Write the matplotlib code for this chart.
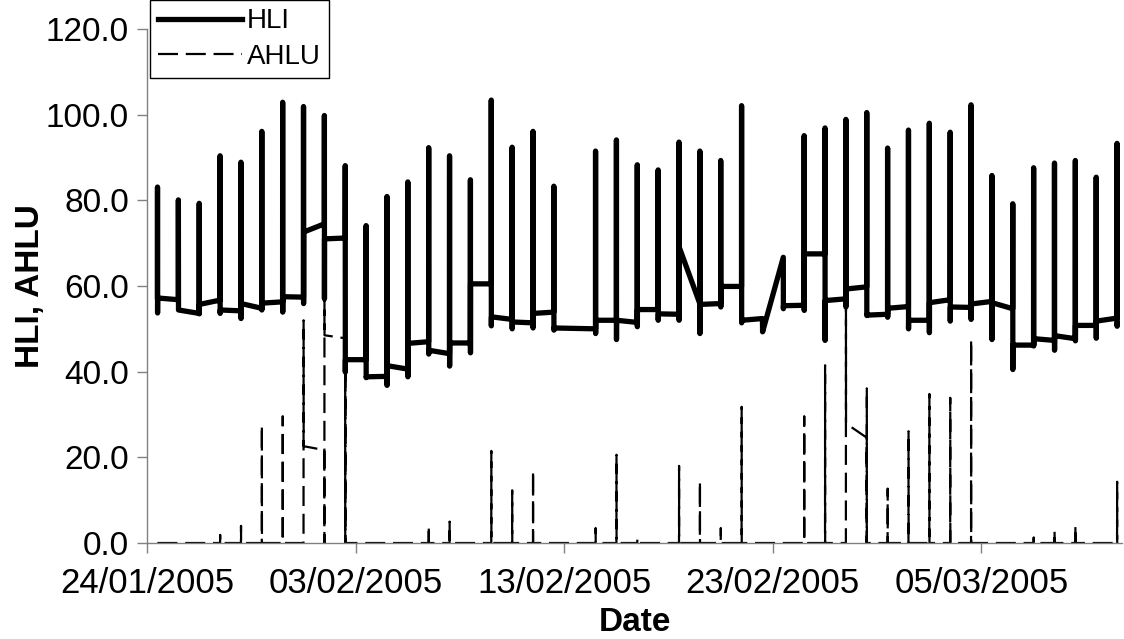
import numpy as np
import pandas as pd
import matplotlib
matplotlib.use("Agg")
import matplotlib.pyplot as plt
import matplotlib.dates as mdates
from matplotlib.ticker import MultipleLocator, FuncFormatter
from matplotlib.lines import Line2D

plt.rcParams['font.family'] = ['Liberation Sans', 'DejaVu Sans']

# one record per day, taken around midday
days = pd.date_range('2005-01-24 12:00', periods=47, freq='D')

# HLI: value on arrival, daily maximum, daily minimum, value on departure
hli_in = [57.0, 56.8, 53.6, 56.7, 54.2, 54.8, 56.3, 57.4, 74.5, 71.2,
          42.8, 38.9, 40.6, 47.0, 44.2, 46.7, 60.5, 52.2, 51.4, 53.9,
          np.nan, 50.0, 52.0, 51.5, 54.5, 53.4, 55.9, 55.9, 59.9, 52.4,
          66.7, 55.5, 67.5, 57.0, 59.8, 53.4, 55.2, 52.0, 56.8, 55.0,
          56.4, 54.7, 46.2, 47.3, 47.7, 50.8, 52.5]
hli_max = [83.1, 80.1, 79.3, 90.4, 88.9, 96.1, 102.9, 101.9, 99.8, 88.1,
           74.1, 80.9, 84.3, 92.3, 90.4, 84.8, 103.4, 92.4, 96.1, 83.3,
           np.nan, 91.5, 94.1, 88.3, 87.1, 93.6, 91.5, 89.3, 102.1, 52.4,
           66.7, 95.1, 96.9, 98.9, 100.5, 92.2, 96.4, 98.0, 95.9, 102.3,
           85.8, 79.2, 87.6, 88.7, 89.3, 85.4, 93.3]
hli_min = [53.7, 54.4, 53.5, 53.6, 52.4, 54.4, 53.9, 55.9, 57.0, 39.9,
           38.6, 36.8, 38.8, 44.1, 41.3, 44.4, 50.7, 50.0, 50.2, 49.7,
           np.nan, 48.9, 47.5, 50.5, 52.0, 52.0, 48.9, 55.1, 51.4, 49.3,
           54.7, 54.3, 47.3, 55.1, 53.1, 52.7, 50.0, 49.1, 51.8, 52.2,
           47.5, 40.5, 46.0, 45.0, 47.2, 47.8, 50.6]
hli_out = [57.2, 54.4, 55.7, 54.4, 55.9, 56.0, 57.5, 72.6, 71.0, 42.8,
           38.8, 41.4, 46.6, 45.0, 46.7, 60.5, 52.8, 51.6, 53.6, 50.2,
           np.nan, 52.0, 52.0, 54.5, 53.5, 69.1, 55.7, 59.9, 52.0, 49.3,
           55.4, 67.5, 56.6, 59.3, 53.2, 54.8, 52.0, 56.1, 55.1, 55.8,
           56.1, 46.2, 47.7, 48.4, 50.8, 51.8, 51.5]

# AHLU: value on arrival, daily maximum, value on departure (daily minimum is 0)
ahlu_in = [0, 0, 0, 0, 0, 0, 0, 0, 21.7, 47.8,
           0, 0, 0, 0, 0, 0, 0, 0, 0, 0,
           0, 0, 0, 0, 0, 0, 0, 0, 0, 0,
           0, 0, 0, 0, 24.6, 0, 0, 0, 0, 0,
           0, 0, 0, 0, 0, 0, 0]
ahlu_max = [0, 0, 0, 1.9, 4.0, 27.5, 29.6, 52.0, 57.0, 47.8,
            0, 0, 0, 4.0, 5.0, 0, 21.5, 12.3, 16.9, 0,
            0, 3.5, 20.6, 1.0, 0, 18.0, 14.4, 3.5, 31.8, 0,
            0, 29.6, 41.5, 54.7, 36.1, 12.7, 26.1, 34.8, 33.9, 47.5,
            0, 0, 1.3, 2.9, 4.0, 0, 14.3]
ahlu_out = [0, 0, 0, 0, 0, 0, 0, 22.6, 48.5, 0,
            0, 0, 0, 0, 0, 0, 0, 0, 0, 0,
            0, 0, 0, 0, 0, 0, 0, 0, 0, 0,
            0, 0, 0, 27.9, 0, 0, 0, 0, 0, 0,
            0, 0, 0, 0, 0, 0, 0]

x_ticks = ['2005-01-24', '2005-02-03', '2005-02-13', '2005-02-23', '2005-03-05']


def day_path(day_values):
    """Chain each day's readings into one continuous polyline."""
    xs, ys = [], []
    step = pd.Timedelta(minutes=5)
    for d, vals in zip(days, day_values):
        if np.any(np.isnan(vals)):
            continue
        for k, v in enumerate(vals):
            xs.append(d + k * step)
            ys.append(v)
    return xs, ys


hli_x, hli_y = day_path(np.column_stack([hli_in, hli_max, hli_min, hli_out]).astype(float))
ahlu_x, ahlu_y = day_path(np.column_stack([ahlu_in, np.zeros(len(days)), ahlu_max, ahlu_out]).astype(float))

ahlu_dash = (0, (9, 3.5))

fig = plt.figure(figsize=(11.24, 6.39), dpi=100)
ax = fig.add_axes([147 / 1124, 1 - 543 / 639, (1122 - 147) / 1124, (543 - 29) / 639])

ax.plot(ahlu_x, ahlu_y, color='black', linewidth=1.6, linestyle=ahlu_dash,
        dash_capstyle='butt', zorder=2)
ax.plot(hli_x, hli_y, color='black', linewidth=3.8, solid_joinstyle='round',
        solid_capstyle='round', zorder=3)

x0 = mdates.date2num(pd.Timestamp('2005-01-24'))
ax.set_xlim(x0, x0 + 46.74)
ax.set_ylim(0, 120)

ax.set_xticks([mdates.date2num(pd.Timestamp(t)) for t in x_ticks])
ax.xaxis.set_major_formatter(mdates.DateFormatter('%d/%m/%Y'))
ax.yaxis.set_major_locator(MultipleLocator(20))
ax.yaxis.set_major_formatter(FuncFormatter(lambda v, p: f'{v:.1f}'))

for side in ('top', 'right'):
    ax.spines[side].set_visible(False)
for side in ('left', 'bottom'):
    ax.spines[side].set_color('#808080')
    ax.spines[side].set_linewidth(1.0)

ax.tick_params(axis='both', direction='out', length=7, width=1.0, color='#808080',
               labelcolor='black')
ax.tick_params(axis='x', pad=10, labelsize=25)
ax.tick_params(axis='y', pad=6, labelsize=24)

ax.set_xlabel('Date', fontsize=24, fontweight='bold', labelpad=5)
ax.set_ylabel('HLI, AHLU', fontsize=24, fontweight='bold', labelpad=0)

handles = [Line2D([], [], color='black', linewidth=3.8),
           Line2D([], [], color='black', linewidth=1.6, linestyle=ahlu_dash)]
leg = fig.legend(handles, ['HLI', 'AHLU'], loc='upper left',
                 bbox_to_anchor=(150 / 1124, 1.0), bbox_transform=fig.transFigure,
                 fontsize=20, frameon=True, fancybox=False, framealpha=1,
                 edgecolor='black', handlelength=3.0, handletextpad=0.2,
                 borderpad=0.3, labelspacing=0.35, borderaxespad=0)
leg.get_frame().set_linewidth(1.0)

fig.savefig('out.png', dpi=100)
